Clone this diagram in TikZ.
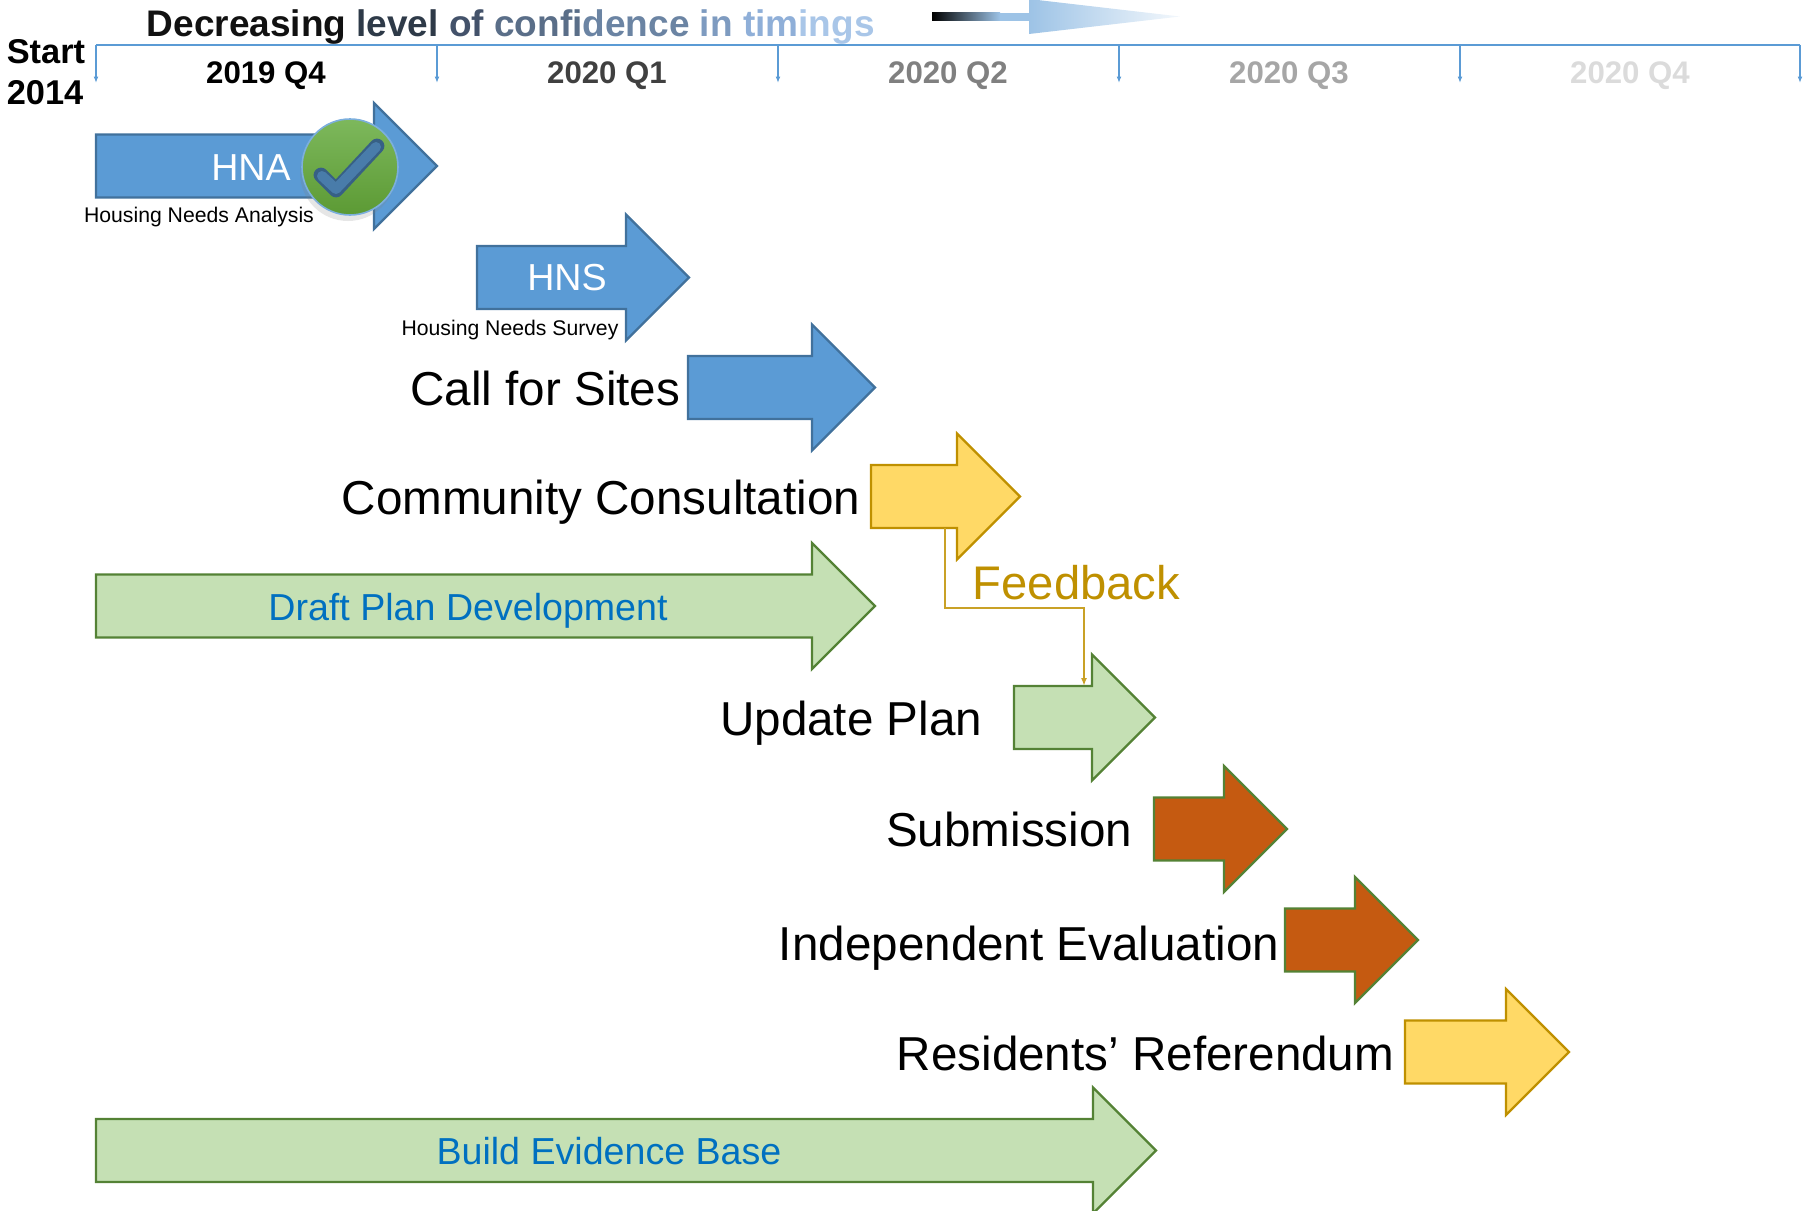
\documentclass[tikz,border=0pt]{standalone}
\usepackage{fontspec}
\setmainfont{Liberation Sans}
\usepackage{tikz}
\usetikzlibrary{arrows.meta,shadows}
\definecolor{hblue}{HTML}{5B9BD5}
\definecolor{hbluedge}{HTML}{41719C}
\definecolor{hyellow}{HTML}{FFD966}
\definecolor{hyellowedge}{HTML}{BF9000}
\definecolor{hgreen}{HTML}{C5E0B4}
\definecolor{hgreenedge}{HTML}{548235}
\definecolor{horange}{HTML}{C55A11}
\definecolor{htext}{HTML}{0070C0}
\definecolor{hlight}{HTML}{9DC3E6}
\definecolor{donetop}{HTML}{7DB85C}
\definecolor{donebot}{HTML}{5C9A34}
\tikzset{
bluearr/.style={fill=hblue,draw=hbluedge,line width=0.6pt},
yellowarr/.style={fill=hyellow,draw=hyellowedge,line width=0.55pt},
greenarr/.style={fill=hgreen,draw=hgreenedge,line width=0.6pt},
orangearr/.style={fill=horange,draw=hgreenedge,line width=0.6pt},
stage/.style={anchor=base east,inner sep=0,font=\fontsize{11.9}{14}\selectfont},
inarr/.style={anchor=base,inner sep=0,font=\fontsize{9.4}{11}\selectfont},
small/.style={anchor=base,inner sep=0,font=\fontsize{5.3}{6}\selectfont},
quarter/.style={anchor=base,inner sep=0,font=\bfseries\fontsize{7.8}{9}\selectfont},
tick/.style={hblue,line width=0.3pt,-{Latex[length=1.6pt,width=1.2pt]}},
fbline/.style={hyellowedge!85,line width=0.4pt,-{Latex[length=2pt,width=1.5pt]}}
}
\begin{document}
\begin{tikzpicture}[x=0.25pt,y=-0.25pt]
\useasboundingbox (0,0) rectangle (1812,1211);
% heading and timeline
\node[anchor=base west,inner sep=0,font=\bfseries\fontsize{9.25}{11}\selectfont] (head) at (146,36) {\color[HTML]{111111}Decreasing \color[HTML]{2E3A48}level \color[HTML]{43526A}of \color[HTML]{5A6E88}confi\color[HTML]{6B84A3}dence \color[HTML]{7E9BC0}in \color[HTML]{8FAFD8}tim\color[HTML]{A9C6E8}ings};
\shade[left color=black,right color=hlight] (932,12.7) rectangle (1000,20.7);
\fill[hlight] (1000,12.7) rectangle (1030,20.7);
\shade[left color=hlight,right color=hlight!12] (1029,-1) -- (1180,16.5) -- (1029,34) -- cycle;
\draw[hblue,line width=0.5pt] (96,44.5) -- (1800,44.5);
\foreach \x in {96,437,778,1119,1460,1800} \draw[tick] (\x,44.5) -- (\x,83);
\foreach \x/\q/\c in {266/2019 Q4/black,607/2020 Q1/black!75,948/2020 Q2/black!50,1289/2020 Q3/black!35,1630/2020 Q4/black!14}
\node[quarter,text=\c] at (\x,83) {\q};
\node[anchor=base west,inner sep=0,font=\bfseries\fontsize{8.6}{10}\selectfont] (start) at (6,63) {Start};
\node[anchor=base west,inner sep=0,font=\bfseries\fontsize{8.6}{10}\selectfont] (year) at (6,104) {2014};
% stages
\foreach \n/\l/\r/\y/\s in {hna/96/437/166/bluearr,hns/477/689/277.5/bluearr,cfs/688/875/387.5/bluearr,cc/871/1020/496.5/yellowarr,dpd/96/875/606/greenarr,up/1014/1155/717.5/greenarr,sub/1154/1287/829/orangearr,ie/1285/1418/940/orangearr,rr/1405/1569/1052/yellowarr,beb/96/1156/1150.5/greenarr} {
\draw[\s] (\l,\y-31.5) -- (\r-63,\y-31.5) -- (\r-63,\y-63) -- (\r,\y) -- (\r-63,\y+63) -- (\r-63,\y+31.5) -- (\l,\y+31.5) -- cycle;
\coordinate (\n-n) at (\r-63,\y-31.5);
\coordinate (\n-s) at (\r-63,\y+31.5);
\coordinate (\n) at (\l,\y);}
\node[inarr,text=white] (hna-t) at (251,180) {HNA};
\node[inarr,text=white] (hns-t) at (567,290) {HNS};
\node[inarr,text=htext] (dpd-t) at (468,620) {Draft Plan Development};
\node[inarr,text=htext] (beb-t) at (609,1164) {Build Evidence Base};
\node[small] (hna-l) at (199,222) {Housing Needs Analysis};
\node[small] (hns-l) at (510,335) {Housing Needs Survey};
\node[stage] (cfs-l) at (681,405) {Call for Sites};
\node[stage] (cc-l) at (861,514) {Community Consultation};
\node[stage] (up-l) at (983,735) {Update Plan};
\node[stage] (sub-l) at (1133,846) {Submission};
\node[stage] (ie-l) at (1280,960) {Independent Evaluation};
\node[stage] (rr-l) at (1395,1070) {Residents’ Referendum};
% done mark
\shade[top color=donetop,bottom color=donebot,draw=hblue!80,line width=0.4pt,drop shadow={opacity=0.2,shadow xshift=-0.5pt,shadow yshift=-1.5pt}] (350,167) circle[radius=48];
\draw[line width=3.7pt,line cap=round,line join=round,hbluedge!85!black] (321,175) -- (336,190) -- (377,146);
\draw[line width=2.5pt,line cap=round,line join=round,hblue!80!black] (322,176) -- (336,189) -- (376,147);
% feedback
\draw[fbline] ([xshift=-3pt]cc-s) -- ++(0,80) -| ([xshift=-2pt]up-n);
\node[anchor=base west,inner sep=0,text=hyellowedge,font=\fontsize{11.8}{14}\selectfont] (fb) at (972,599) {Feedback};
\end{tikzpicture}
\end{document}
